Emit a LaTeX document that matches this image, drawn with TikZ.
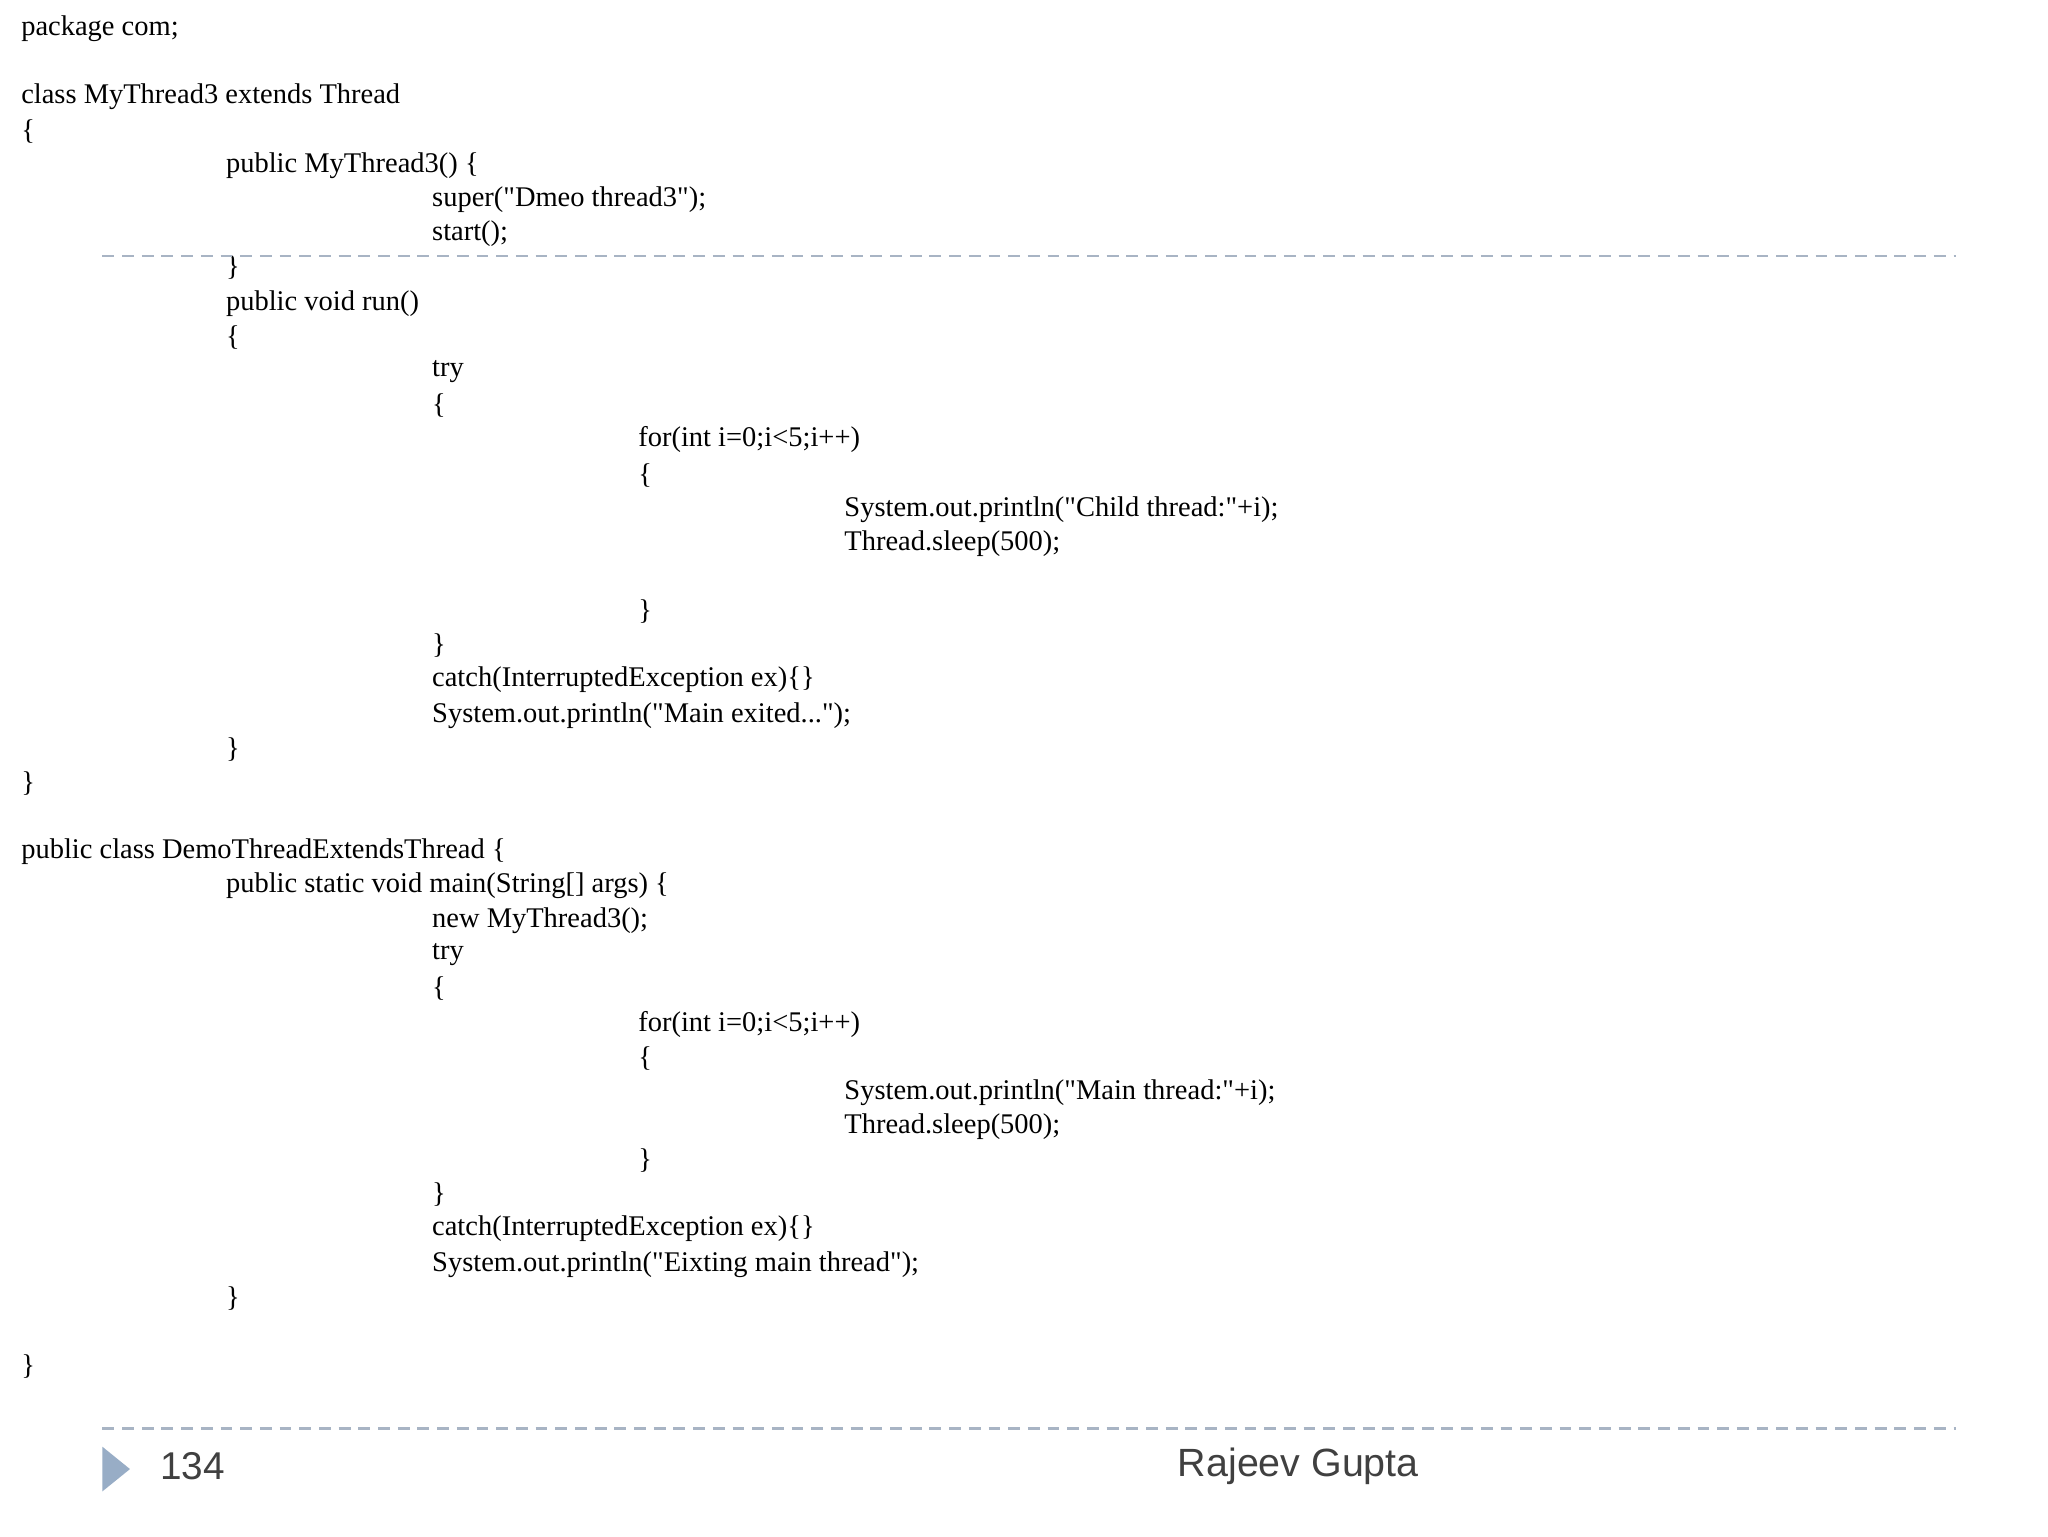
\documentclass[tikz,border=0pt]{standalone}
\usepackage{fontspec}
\defaultfontfeatures{}
\setmainfont{Liberation Serif}[Ligatures=ResetAll]
\newfontfamily\footfont{Liberation Sans}
\newcommand\dq{\XeTeXglyph\XeTeXcharglyph"22\relax}
\definecolor{sepc}{HTML}{A8B4C4}
\definecolor{tric}{HTML}{98ADC6}
\begin{document}
\begin{tikzpicture}[x=1pt,y=-1pt,
  code/.style={anchor=west,inner sep=0pt,font=\fontsize{21.7}{25}\selectfont},
  sep/.style={draw=sepc,line width=1.8pt,dash pattern=on 9pt off 6pt}]
\useasboundingbox (0,0) rectangle (1560,1170);
\fill[white] (0,0) rectangle (1560,1170);
\foreach \y/\x/\t [count=\i] in {
22/16/{package com;},
74/16/{class MyThread3 extends Thread},
100/16/{\{},
126/172/{public MyThread3() \{},
152/329/{super(\dq Dmeo thread3\dq);},
178/329/{start();},
204/172/{\}},
231/172/{public void run()},
257/172/{\{},
283/329/{try},
309/329/{\{},
335/486/{for(int i=0;i<5;i++)},
362/486/{\{},
388/643/{System.out.println(\dq Child thread:\dq+i);},
414/643/{Thread.sleep(500);},
466/486/{\}},
492/329/{\}},
518/329/{catch(InterruptedException ex)\{\}},
545/329/{System.out.println(\dq Main exited...\dq);},
571/172/{\}},
597/16/{\}},
649/16/{public class DemoThreadExtendsThread \{},
675/172/{public static void main(String[] args) \{},
701/329/{new MyThread3();},
727/329/{try},
753/329/{\{},
780/486/{for(int i=0;i<5;i++)},
806/486/{\{},
832/643/{System.out.println(\dq Main thread:\dq+i);},
858/643/{Thread.sleep(500);},
884/486/{\}},
910/329/{\}},
936/329/{catch(InterruptedException ex)\{\}},
963/329/{System.out.println(\dq Eixting main thread\dq);},
989/172/{\}},
1041/16/{\}}}
  \node[code] (l\i) at (\x,\y) {\t};
\coordinate (s1a) at (78,195); \coordinate (s1b) at (1490,195);
\coordinate (s2a) at (78,1088); \coordinate (s2b) at (1490,1088);
\draw[sep] (s1a) -- (s1b);
\draw[sep] (s2a) -- (s2b);
\fill[tric] (78,1102) -- (99,1119) -- (78,1136) -- cycle;
\node[anchor=west,inner sep=0pt,font=\footfont\fontsize{29.5}{32}\selectfont,text=black!75] (pg) at (122,1117) {134};
\node[inner sep=0pt,font=\footfont\fontsize{30}{32}\selectfont,text=black!75] (au) at (989,1117) {Rajeev Gupta};
\end{tikzpicture}
\end{document}
